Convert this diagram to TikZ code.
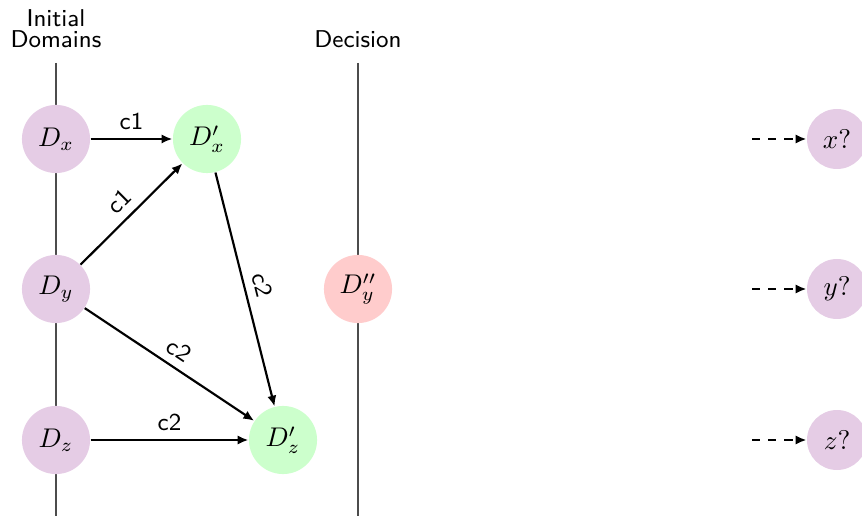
\documentclass[tikz,border=0pt]{standalone}
\usetikzlibrary{arrows.meta}
\begin{document}
\begin{tikzpicture}[x=0.37pt, y=-0.37pt,
  state/.style={circle, draw=none, minimum size=25.2pt, inner sep=1pt},
  init/.style={state, fill=violet!20},
  derived/.style={state, fill=green!20},
  decided/.style={state, fill=red!20},
  query/.style={circle, draw=none, fill=violet!20, minimum size=22.2pt, inner sep=1pt},
  timeline/.style={draw=black!70, line width=0.5pt},
  flow/.style={draw, line width=0.8pt, -{Latex[length=4pt, width=3.4pt]}},
  feed/.style={flow, dashed},
  lab/.style={font=\sffamily\small, inner sep=3pt},
  head/.style={font=\sffamily\small, align=center, inner sep=0pt, anchor=base}]
  \useasboundingbox (0,0) rectangle (862,516);

  % time lines
  \coordinate (l1top) at (56,63);  \coordinate (l1bot) at (56,516);
  \coordinate (l2top) at (358,63); \coordinate (l2bot) at (358,516);
  \draw[timeline] (l1top) -- (l1bot);
  \draw[timeline] (l2top) -- (l2bot);

  \node[head] (hinit) at (56,48) {Initial\\[-3pt]Domains};
  \node[head] (hdec) at (358,48) {Decision};

  % domains
  \node[init] (Dx) at (56,139) {$D_x$};
  \node[init] (Dy) at (56,289) {$D_y$};
  \node[init] (Dz) at (56,440) {$D_z$};
  \node[derived] (Dxp) at (207,139) {$D'_x$};
  \node[derived] (Dzp) at (283,440) {$D'_z$};
  \node[decided] (Dypp) at (358,289) {$D''_y$};

  % queried variables
  \node[query] (qx) at (837,139) {$x?$};
  \node[query] (qy) at (837,289) {$y?$};
  \node[query] (qz) at (837,440) {$z?$};
  \coordinate (fx) at (752,139);
  \coordinate (fy) at (752,289);
  \coordinate (fz) at (752,440);

  % constraint propagation
  \draw[flow] (Dx) -- node[lab, above] {c1} (Dxp);
  \draw[flow] (Dy) -- node[lab, above, sloped] {c1} (Dxp);
  \draw[flow] (Dy) -- node[lab, above, sloped] {c2} (Dzp);
  \draw[flow] (Dxp) -- node[lab, above, sloped] {c2} (Dzp);
  \draw[flow] (Dz) -- node[lab, above] {c2} (Dzp);

  \draw[feed] (fx) -- (qx);
  \draw[feed] (fy) -- (qy);
  \draw[feed] (fz) -- (qz);
\end{tikzpicture}
\end{document}
